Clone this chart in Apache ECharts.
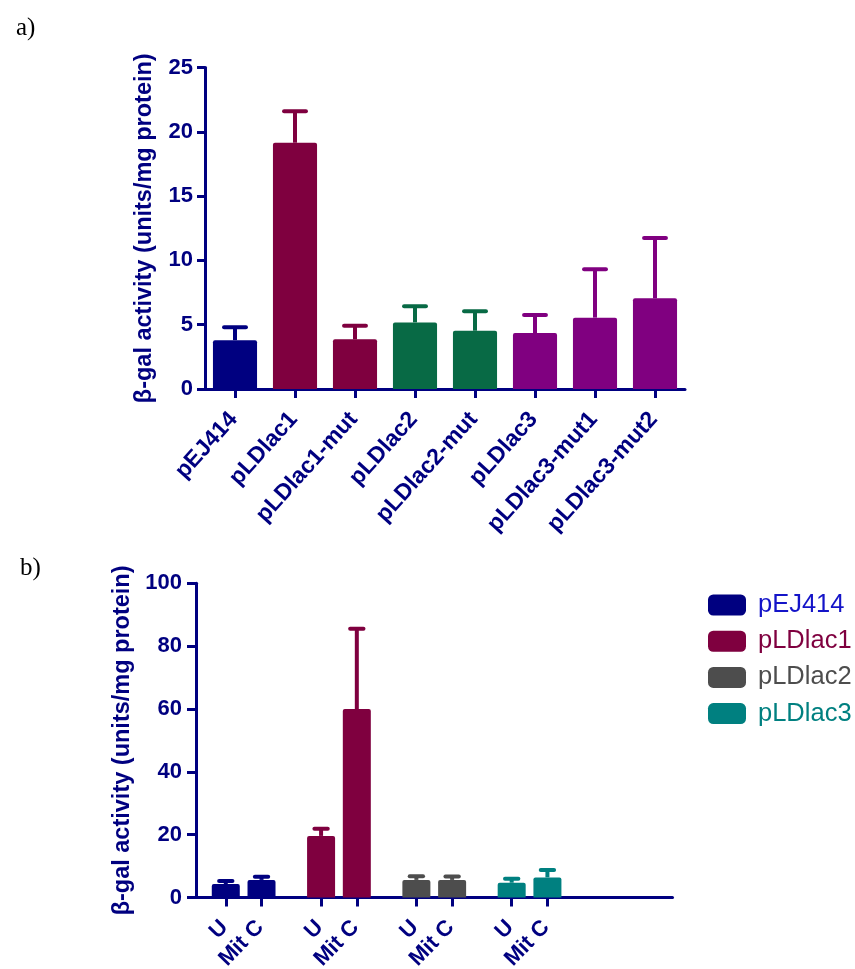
<!DOCTYPE html>
<html>
<head>
<meta charset="utf-8">
<title>β-gal activity</title>
<script src="https://cdn.jsdelivr.net/npm/echarts@6/dist/echarts.min.js"></script>
<style>
  html, body { margin: 0; padding: 0; background: #ffffff; }
  #chart { width: 855px; height: 969px; }
</style>
</head>
<body>
<div id="chart"></div>
<script>
// ---- Panel a: constructs ----
const constructsA = ['pEJ414', 'pLDlac1', 'pLDlac1-mut', 'pLDlac2', 'pLDlac2-mut', 'pLDlac3', 'pLDlac3-mut1', 'pLDlac3-mut2'];
const meanA = [3.8, 19.15, 3.86, 5.18, 4.53, 4.35, 5.55, 7.05];
const semA = [1.0, 2.45, 1.06, 1.25, 1.51, 1.4, 3.76, 4.69];
const colorsA = ['#000080', '#7f003f', '#7f003f', '#086a45', '#086a45', '#800080', '#800080', '#800080'];
const yTicksA = { min: 0, max: 25, interval: 5 };

// ---- Panel b: plasmids, untreated vs mitomycin C ----
const plasmidsB = ['pEJ414', 'pLDlac1', 'pLDlac2', 'pLDlac3'];
const treatmentsB = ['U', 'Mit C'];
const meanU = [4.3, 19.6, 5.6, 4.7];
const semU = [0.95, 2.3, 1.2, 1.3];
const meanMitC = [5.6, 60.0, 5.6, 6.4];
const semMitC = [1.0, 25.5, 1.1, 2.35];
const colorsB = ['#000080', '#7f003f', '#4d4d4d', '#008080'];
const legendTextColorsB = ['#1414c8', '#7f003f', '#4d4d4d', '#008080'];
const yTicksB = { min: 0, max: 100, interval: 20 };

const yTitle = 'β-gal activity (units/mg protein)';
const NAVY = '#000080';
const SANS = '"Liberation Sans", Arial, sans-serif';

// Panel b x axis: each plasmid gets a block of slots, bars sit on two of them,
// plus one trailing empty block.
const SLOTS = 8, U_SLOT = 2, MITC_SLOT = 5;
const catsB = [];
const labelsB = [];
for (let g = 0; g <= plasmidsB.length; g++) {
  for (let s = 0; s < SLOTS; s++) {
    catsB.push(g + '_' + s);
    let lab = '';
    if (g < plasmidsB.length) {
      if (s === U_SLOT) lab = treatmentsB[0];
      else if (s === MITC_SLOT) lab = treatmentsB[1];
    }
    labelsB.push(lab);
  }
}
const shownB = (idx) => labelsB[idx] !== '';

const barSeriesB = plasmidsB.map((name, i) => ({
  name: name,
  type: 'bar',
  xAxisIndex: 1,
  yAxisIndex: 1,
  barWidth: 28,
  barGap: '-100%',
  itemStyle: { color: colorsB[i], borderRadius: [2, 2, 0, 0] },
  data: catsB.map((_, k) => {
    if (k === i * SLOTS + U_SLOT) return meanU[i];
    if (k === i * SLOTS + MITC_SLOT) return meanMitC[i];
    return '-';
  }),
  z: 2
}));

// Upper error whiskers: stem from the bar top plus a cap
function whisker(capFraction) {
  return function (params, api) {
    const idx = api.value(0);
    const base = api.coord([idx, api.value(1)]);
    const top = api.coord([idx, api.value(2)]);
    const band = api.size([1, 0])[0];
    const half = band * capFraction / 2;
    const color = api.visual('color');
    return {
      type: 'group',
      children: [
        { type: 'line', shape: { x1: top[0], y1: base[1], x2: top[0], y2: top[1] },
          style: { stroke: color, lineWidth: 4 } },
        { type: 'line', shape: { x1: top[0] - half, y1: top[1], x2: top[0] + half, y2: top[1] },
          style: { stroke: color, lineWidth: 4, lineCap: 'round' } }
      ]
    };
  };
}

const errDataA = meanA.map((m, i) => ({
  value: [i, m, m + semA[i]],
  itemStyle: { color: colorsA[i] }
}));
const errDataB = [];
plasmidsB.forEach((p, i) => {
  errDataB.push({ value: [i * SLOTS + U_SLOT, meanU[i], meanU[i] + semU[i]], itemStyle: { color: colorsB[i] } });
  errDataB.push({ value: [i * SLOTS + MITC_SLOT, meanMitC[i], meanMitC[i] + semMitC[i]], itemStyle: { color: colorsB[i] } });
});

const axisLine = { lineStyle: { color: NAVY, width: 3 } };
const yLabelA = { color: NAVY, fontFamily: SANS, fontWeight: 'bold', fontSize: 22, margin: 12 };
const yLabelB = { color: NAVY, fontFamily: SANS, fontWeight: 'bold', fontSize: 22, margin: 14 };
const titleText = { color: NAVY, fontFamily: SANS, fontWeight: 'bold', fontSize: 23.5 };
const panelTag = { fontFamily: '"Liberation Serif", "Times New Roman", serif', fontWeight: 'normal', fontSize: 25, color: '#000' };

const option = {
  animation: false,
  backgroundColor: '#ffffff',
  title: [
    { text: 'a)', left: 11, top: 11, textStyle: panelTag },
    { text: 'b)', left: 15, top: 551, textStyle: panelTag }
  ],
  legend: {
    orient: 'vertical',
    left: 703,
    top: 587,
    icon: 'roundRect',
    itemWidth: 38,
    itemHeight: 21,
    itemGap: 10.2,
    selectedMode: false,
    textStyle: { fontFamily: SANS, fontSize: 25.5, padding: [0, 0, 0, 7] },
    data: plasmidsB.map((name, i) => ({ name: name, textStyle: { color: legendTextColorsB[i] } }))
  },
  grid: [
    { left: 205, top: 67.5, width: 480, height: 321.5, containLabel: false, outerBoundsMode: 'none' },
    { left: 196, top: 583.3, width: 476.5, height: 314.2, containLabel: false, outerBoundsMode: 'none' }
  ],
  xAxis: [
    {
      gridIndex: 0,
      type: 'category',
      data: constructsA,
      boundaryGap: true,
      axisLine: axisLine,
      axisTick: { show: true, alignWithLabel: true, length: 9, lineStyle: { color: NAVY, width: 3 } },
      axisLabel: { interval: 0, rotate: 48, color: NAVY, fontFamily: SANS, fontWeight: 'bold', fontSize: 23,
                   margin: 25, padding: [0, 2, 0, 0] },
      splitLine: { show: false }
    },
    {
      gridIndex: 1,
      type: 'category',
      data: catsB,
      boundaryGap: true,
      axisLine: axisLine,
      axisTick: { show: true, alignWithLabel: true, length: 9, interval: (idx) => shownB(idx),
                  lineStyle: { color: NAVY, width: 3 } },
      axisLabel: { interval: (idx) => shownB(idx), formatter: (v, idx) => labelsB[idx],
                   rotate: 46, color: NAVY, fontFamily: SANS, fontWeight: 'bold', fontSize: 22,
                   margin: 25, padding: [0, 2, 0, 0] },
      splitLine: { show: false }
    }
  ],
  yAxis: [
    {
      gridIndex: 0,
      type: 'value',
      min: yTicksA.min, max: yTicksA.max, interval: yTicksA.interval,
      name: yTitle,
      nameLocation: 'middle',
      nameGap: 48,
      nameTextStyle: titleText,
      axisLine: { show: true, lineStyle: { color: NAVY, width: 3 } },
      axisTick: { show: true, length: 8, lineStyle: { color: NAVY, width: 3 } },
      axisLabel: yLabelA,
      splitLine: { show: false }
    },
    {
      gridIndex: 1,
      type: 'value',
      min: yTicksB.min, max: yTicksB.max, interval: yTicksB.interval,
      name: yTitle,
      nameLocation: 'middle',
      nameGap: 61,
      nameTextStyle: titleText,
      axisLine: { show: true, lineStyle: { color: NAVY, width: 3 } },
      axisTick: { show: true, length: 9, lineStyle: { color: NAVY, width: 3 } },
      axisLabel: yLabelB,
      splitLine: { show: false }
    }
  ],
  series: [
    {
      name: 'activity',
      type: 'bar',
      xAxisIndex: 0,
      yAxisIndex: 0,
      barWidth: '73.5%',
      data: meanA.map((v, i) => ({ value: v, itemStyle: { color: colorsA[i] } })),
      itemStyle: { borderRadius: [2, 2, 0, 0] },
      z: 2
    },
    {
      name: 'activity sem',
      type: 'custom',
      xAxisIndex: 0,
      yAxisIndex: 0,
      renderItem: whisker(0.365),
      encode: { x: 0, y: [1, 2] },
      data: errDataA,
      z: 3
    },
    ...barSeriesB,
    {
      name: 'treatment sem',
      type: 'custom',
      xAxisIndex: 1,
      yAxisIndex: 1,
      renderItem: whisker(1.12),
      encode: { x: 0, y: [1, 2] },
      data: errDataB,
      z: 3
    }
  ]
};

const chart = echarts.init(document.getElementById('chart'), null, { renderer: 'canvas' });
chart.setOption(option);
</script>
</body>
</html>
